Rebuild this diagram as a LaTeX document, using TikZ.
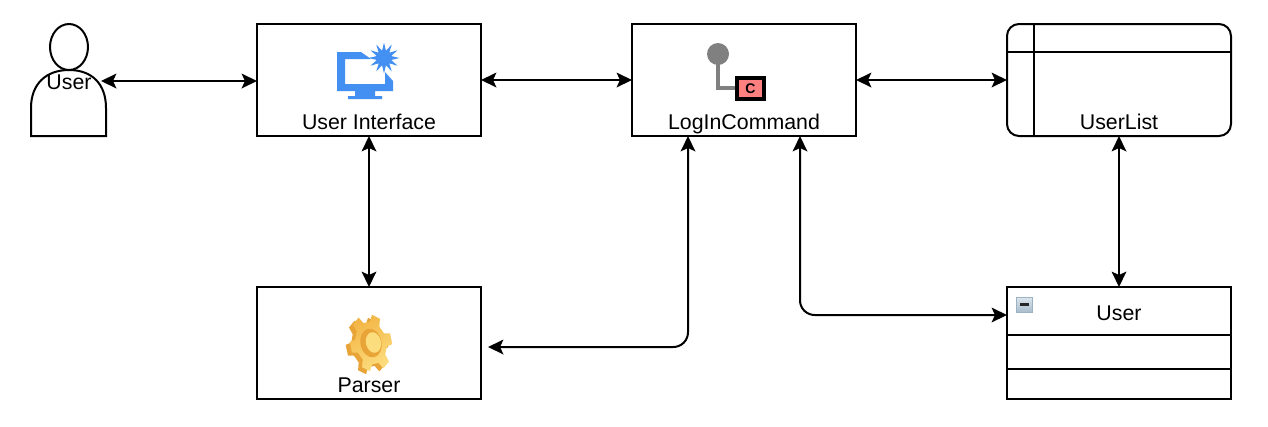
\documentclass[tikz,border=0pt]{standalone}
\usepackage{fontspec}
\setmainfont{Liberation Sans}
\usetikzlibrary{arrows.meta}
\definecolor{iconblue}{HTML}{4390F2}
\definecolor{cmdgray}{HTML}{808080}
\definecolor{cmdred}{HTML}{FF8080}
\definecolor{gearlight}{HTML}{FCDD7E}
\definecolor{geardark}{HTML}{E8A437}
\definecolor{gearside}{HTML}{F3B545}
\definecolor{minustop}{HTML}{DCE6EE}
\definecolor{minusbot}{HTML}{A9BDCC}
\definecolor{minusline}{HTML}{9DB2C3}
\tikzset{
  box/.style={draw=black,line width=1.5pt,fill=white,minimum width=168pt,minimum height=84pt,inner sep=0pt,outer sep=0pt},
  lbl/.style={font=\fontsize{16}{19}\selectfont,text=black,inner sep=0pt,text height=11.5pt,text depth=0pt},
  biarrow/.style={line width=1.5pt,{Stealth[length=11.5pt,width=11pt,inset=2.5pt]}-{Stealth[length=11.5pt,width=11pt,inset=2.5pt]}},
  divider/.style={line width=1.5pt}
}
\newcommand{\gearshape}{(-18:.74) \foreach \a in {0,60,...,300} { -- ({\a-18}:.74) -- ({\a-11}:1) -- ({\a+11}:1) -- ({\a+18}:.74) } -- cycle}
\begin{document}
\begin{tikzpicture}[x=0.75pt,y=-0.75pt]
\useasboundingbox (0,0) rectangle (1268,426);
\fill[white] (0,0) rectangle (1268,426);
% actor
\draw[line width=1.5pt,fill=white] (31,136) -- (31,108) .. controls (31,84) and (46,70) .. (69,70) .. controls (92,70) and (106,84) .. (106,108) -- (106,136) -- cycle;
\draw[line width=1.5pt,fill=white] (69,47) ellipse [x radius=19,y radius=23];
\node[lbl] (actorlabel) at (69,82) {User};
\coordinate (actor) at (101,81);
% boxes
\node[box] (ui) at (369,80) {};
\node[box] (cmd) at (744,80) {};
\node[box,rounded corners=9pt] (list) at (1119,80) {};
\node[box] (parser) at (369,343) {};
\node[box] (entity) at (1119,343) {};
% dividers
\coordinate (listv) at (1034,52);
\coordinate (entitya) at (1119,335);
\coordinate (entityb) at (1119,369);
\draw[divider] (listv |- list.north) -- (listv |- list.south);
\draw[divider] (list.west |- listv) -- (list.east |- listv);
\draw[divider] (entity.west |- entitya) -- (entity.east |- entitya);
\draw[divider] (entity.west |- entityb) -- (entity.east |- entityb);
% labels
\node[lbl] (uilabel) at (369,122) {User Interface};
\node[lbl] (cmdlabel) at (744,122) {LogInCommand};
\node[lbl] (listlabel) at (1119,122) {UserList};
\node[lbl] (parserlabel) at (369,385) {Parser};
\node[lbl] (entitylabel) at (1119,313) {User};
% monitor icon
\fill[iconblue] (337,52) -- (361,52) -- (371,59) -- (345,59) -- (345,84) -- (385,84) -- (385,72) -- (393,81) -- (393,91) -- (375,91) -- (375,96) -- (382,96) -- (382,99) -- (348,99) -- (348,96) -- (355,96) -- (355,91) -- (337,91) -- cycle;
\begin{scope}[shift={(384,58)}]
\fill[iconblue] (0:15.5) \foreach \a in {0,30,...,330} { -- (\a:15.5) -- ({\a+15}:7.5) } -- cycle;
\end{scope}
% command icon
\draw[cmdgray,line width=3pt] (718,54) -- (718,88) -- (736,88);
\fill[cmdgray] (718,54) circle [radius=11];
\node[draw=black,line width=3pt,fill=cmdred,minimum width=20pt,minimum height=16pt,inner sep=0pt,font=\fontsize{10.5}{12}\selectfont\bfseries] (cmdicon) at (750.5,88.5) {C};
% gear icon
\begin{scope}[shift={(367,346)},rotate=12,xscale=21,yscale=29]
\fill[geardark] \gearshape;
\end{scope}
\begin{scope}[shift={(371,343)},rotate=12,xscale=21,yscale=29]
\shade[left color=gearside,right color=gearlight,shading angle=30] \gearshape;
\fill[geardark] (0,0) circle [radius=.5];
\fill[gearlight] (.12,0) circle [radius=.36];
\end{scope}
% minus icon
\shade[top color=minustop,bottom color=minusbot,draw=minusline,line width=.75pt] (1016,297) rectangle (1032,312);
\fill[black!85] (1019.5,303) rectangle (1028.5,305.5);
% connectors
\coordinate (cmdleft) at (688,136);
\coordinate (cmdright) at (800,136);
\coordinate (parserport) at (488,347);
\coordinate (entityport) at (1007,315);
\draw[biarrow] (actor) -- (ui.west |- actor);
\draw[biarrow] (ui.east) -- (cmd.west);
\draw[biarrow] (cmd.east) -- (list.west);
\draw[biarrow] (ui.south) -- (parser.north);
\draw[biarrow] (list.south) -- (entity.north);
\draw[biarrow,rounded corners=11pt] (parserport) -- (parserport -| cmdleft) -- (cmdleft);
\draw[biarrow,rounded corners=11pt] (cmdright) -- (cmdright |- entityport) -- (entityport);
\end{tikzpicture}
\end{document}
